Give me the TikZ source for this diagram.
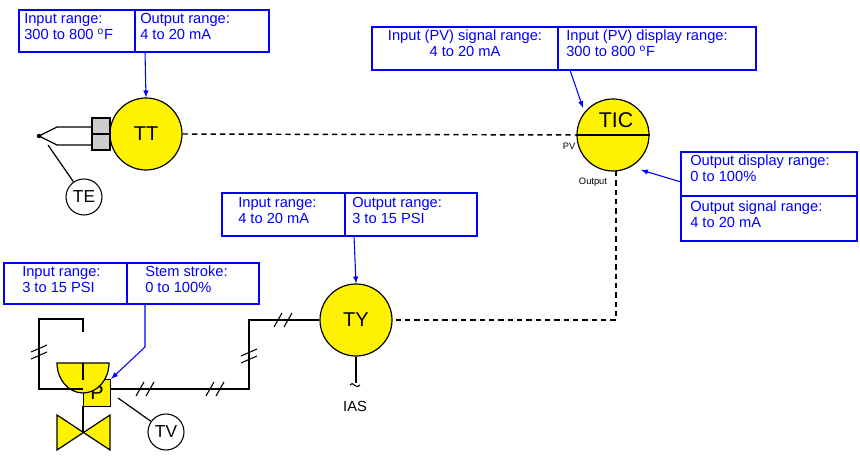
\documentclass[tikz,border=0pt]{standalone}
\usepackage{fontspec}
\setmainfont{Liberation Sans}
\usetikzlibrary{calc}
\begin{document}
\begin{tikzpicture}[x=0.75pt,y=-0.75pt,
 inst/.style={circle,draw,fill=yellow,line width=0.9pt,minimum size=72*0.75pt,inner sep=0pt,font=\fontsize{15}{15}\selectfont},
 small/.style={circle,draw,fill=white,line width=0.8pt,minimum size=36*0.75pt,inner sep=0pt,font=\fontsize{13}{13}\selectfont},
 bx/.style={draw=blue,line width=1.2pt},
 bt/.style={text=blue,font=\fontsize{11}{12}\selectfont,align=left,anchor=north west,inner sep=0pt},
 ar/.style={blue,line width=0.8pt,-latex},
 sig/.style={line width=0.9pt},
 dsh/.style={line width=1.1pt,dash pattern=on 4pt off 3pt}]
\useasboundingbox (0,0) rectangle (860,463);
\newcommand{\hsh}[2]{\draw[line width=0.8pt] ($(#1,#2)+(-9,7)$) -- ($(#1,#2)+(-1,-7)$) ($(#1,#2)+(1,7)$) -- ($(#1,#2)+(9,-7)$);}
\newcommand{\vsh}[2]{\draw[line width=0.8pt] ($(#1,#2)+(-8,4)$) -- ($(#1,#2)+(8,-3)$) ($(#1,#2)+(-8,11)$) -- ($(#1,#2)+(8,4)$);}
% TT
\draw[bx] (19,10) rectangle (269,52); \draw[bx] (135,10)--(135,52);
\node[bt] at (24,13) {Input range:\\300 to 800 $^{\mathrm{o}}$F};
\node[bt] at (140,13) {Output range:\\4 to 20 mA};
\node[inst] (TT) at (146,134) {TT};
\draw[ar] (145,52) -- (TT.north);
\draw[line width=0.9pt,fill=gray!40] (92,118) rectangle (110,134) (92,134) rectangle (110,150);
\fill (39,136) circle (2.2);
\draw[sig] (39,136)--(57,127)--(92,127) (39,136)--(57,145)--(92,145);
\node[small] (TE) at (84,197) {TE};
\coordinate (te1) at (48,145);
\draw[sig] (te1) -- (TE);
% TIC
\node[inst] (TIC) at (613,135) {};
\draw[line width=1.4pt] (TIC.west) -- (TIC.east);
\node[font=\fontsize{16}{16}\selectfont] at (616,120) {TIC};
\node[font=\fontsize{7}{7}\selectfont] at (569,146) {PV};
\node[font=\fontsize{7}{7}\selectfont] at (593,182) {Output};
\draw[dsh] (TT.east) -- (TIC.west);
\draw[bx] (372,27) rectangle (756,70); \draw[bx] (558,27)--(558,70);
\node[bt,align=center,anchor=north] at (465,30) {Input (PV) signal range:\\4 to 20 mA};
\node[bt] at (566,30) {Input (PV) display range:\\300 to 800 $^{\mathrm{o}}$F};
\draw[ar] (570,70) -- (583,108);
\draw[bx] (681,152) rectangle (857,241); \draw[bx] (681,196)--(857,196);
\node[bt] at (690,155) {Output display range:\\0 to 100\%};
\node[bt] at (690,201) {Output signal range:\\4 to 20 mA};
\draw[ar] (681,182) -- (641,170);
% TY
\node[inst] (TY) at (356,320) {TY};
\coordinate (c1) at (616,320);
\draw[dsh] (616,171) -- (c1) -- (TY.east);
\draw[bx] (222,193) rectangle (477,236); \draw[bx] (345,193)--(345,236);
\node[bt] at (238,197) {Input range:\\4 to 20 mA};
\node[bt] at (352,197) {Output range:\\3 to 15 PSI};
\draw[ar] (354,236) -- (TY.north);
\draw[sig] (TY.south) -- (356,383);
\draw[line width=0.8pt] (350,385) .. controls (353,380) and (355,390) .. (360,385);
\node[font=\fontsize{11}{11}\selectfont] (IAS) at (355,406) {IAS};
% Valve
\draw[bx] (4,263) rectangle (259,304); \draw[bx] (127,263)--(127,304);
\node[bt] at (22,266) {Input range:\\3 to 15 PSI};
\node[bt] at (145,266) {Stem stroke:\\0 to 100\%};
\node[draw,fill=yellow,line width=0.9pt,minimum width=27*0.75pt,minimum height=27*0.75pt,inner sep=0pt,font=\fontsize{15}{15}\selectfont] (P) at (97,393) {P};
\draw[ar] (145,304) -- (145,347) -- (P.north east);
\draw[sig,fill=yellow] (57,363) arc (180:0:26 and 30) -- cycle;
\draw[sig] (83,363) -- (83,380);
\draw[sig] (83,332) -- (83,319) -- (39,319) -- (39,389) -- (83,389);
\draw[sig,fill=yellow] (57,415) -- (57,450) -- (110,415) -- (110,450) -- cycle;
\draw[sig] (83,406) -- (83,432);
\coordinate (c2) at (249,389); \coordinate (c3) at (249,320);
\draw[sig] (P.east|-c2) -- (c2) -- (c3) -- (TY.west);
\node[small] (TV) at (166,432) {TV};
\coordinate (tv1) at (118,398);
\draw[sig] (tv1) -- (TV);
\hsh{145}{389}\hsh{215}{389}\hsh{283}{320}
\vsh{249}{352}\vsh{39}{348}
\end{tikzpicture}
\end{document}
